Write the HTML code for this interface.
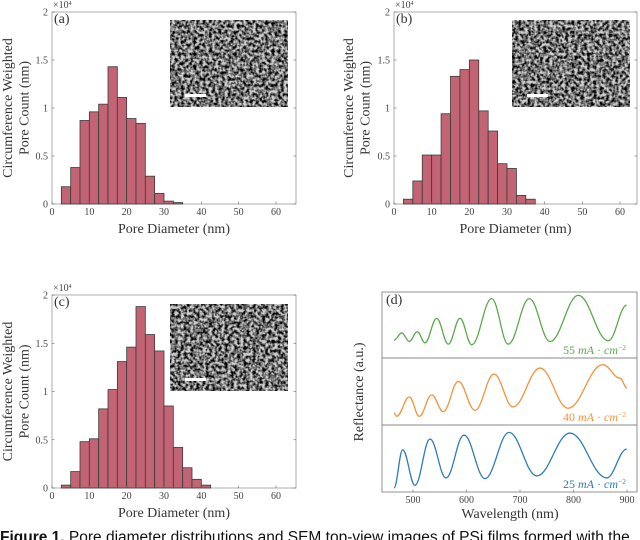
<!DOCTYPE html>
<html><head><meta charset="utf-8">
<style>
html,body{margin:0;padding:0;background:#fff;width:640px;height:540px;overflow:hidden;}
svg{display:block;}
.tk{font-family:"Liberation Serif",serif;font-size:10px;fill:#444;}
.lab{font-family:"Liberation Serif",serif;font-size:14px;fill:#333;}
.cap{font-family:"Liberation Sans",sans-serif;font-size:15.5px;fill:#111;}
</style></head>
<body>
<svg id="fig" width="640" height="540" viewBox="0 0 640 540" xmlns="http://www.w3.org/2000/svg">
<defs>
<filter id="sem" x="0" y="0" width="100%" height="100%">
<feTurbulence type="fractalNoise" baseFrequency="0.32" numOctaves="2" seed="3"/>
<feColorMatrix type="matrix" values="0 0 0 0 0  0 0 0 0 0  0 0 0 0 0  2.6 0 0 0 -0.85"/>
<feComposite in2="SourceGraphic" operator="in"/>
</filter>
</defs>
</svg>
<script>
// ---- histogram data (bins start at 2.5 nm, width 2.5 nm), counts in 1e4 ----
const binStart = 2.5;
const binWidth = 2.5;
const countsA = [0.18,0.38,0.87,0.96,1.04,1.43,1.11,0.89,0.84,0.29,0.11,0.03,0.015];
const countsB = [0.05,0.24,0.51,0.51,0.94,1.33,1.40,1.50,0.97,0.76,0.42,0.37,0.09,0.05];
const countsC = [0.03,0.17,0.48,0.51,0.82,1.02,1.31,1.46,1.88,1.59,1.42,0.85,0.42,0.21,0.09,0.03];
const histXTicks = [0,10,20,30,40,50,60];
const histYTicks = [0,0.5,1,1.5,2];
const histYLabels = ["0","0.5","1","1.5","2"];
// ---- reflectance data (normalized within each sub-panel) ----
const greenNm  = [464.5,478.9,493.1,508,522.4,544.3,566,587.9,609.7,647.1,678.1,717.4,756.1,809,865.1,899.4];
const greenVal = [0.27,0.38,0.25,0.40,0.23,0.60,0.21,0.60,0.20,0.90,0.21,0.90,0.25,0.95,0.26,0.80];
const orangeNm  = [464.5,469.5,493.1,511.8,535,556.6,584.7,615.9,651.4,686.9,737.4,789.7,854.6,887,900];
const orangeVal = [0.18,0.13,0.42,0.13,0.45,0.20,0.65,0.22,0.76,0.27,0.85,0.25,0.90,0.70,0.55];
const blueNm  = [464.5,480.7,503.7,531.8,561.7,595.3,634.6,679.4,731.2,793.5,862.1,899.4];
const blueVal = [0.06,0.63,0.10,0.79,0.21,0.85,0.20,0.89,0.24,0.88,0.21,0.64];
const wlTicks = [500,600,700,800,900];

const NS="http://www.w3.org/2000/svg";
const svg=document.getElementById('fig');
function mk(tag,attrs,parent){const e=document.createElementNS(NS,tag);for(const k in attrs)e.setAttribute(k,attrs[k]);(parent||svg).appendChild(e);return e;}

function hist(P,counts,letter,key){
  const g=mk('g',{});
  
  
  const xs=v=>P.x0+(v)*(P.x60-P.x0)/60;
  const ys=v=>P.yb-(v/2)*(P.yb-P.yt);
  mk('rect',{x:P.x0,y:P.yt,width:P.xr-P.x0,height:P.yb-P.yt,fill:'#fff',stroke:'#999','stroke-width':0.8},g);
  counts.forEach((c,i)=>{
    const a=binStart+i*binWidth;
    const r=mk('rect',{x:xs(a),y:ys(c),width:xs(a+binWidth)-xs(a),height:ys(0)-ys(c),fill:'#c26474',stroke:'#3a3a3a','stroke-width':0.8},g);
    
    
  });
  histXTicks.forEach(t=>{
    mk('line',{x1:xs(t),x2:xs(t),y1:P.yb,y2:P.yb-2.5,stroke:'#666','stroke-width':0.6},g);
    const tx=mk('text',{x:xs(t),y:P.yb+11,'text-anchor':'middle',class:'tk'},g);tx.textContent=t;
  });
  histYTicks.forEach((t,i)=>{
    mk('line',{x1:P.x0,x2:P.x0+2.5,y1:ys(t),y2:ys(t),stroke:'#666','stroke-width':0.6},g);
    mk('line',{x1:P.xr,x2:P.xr-2.5,y1:ys(t),y2:ys(t),stroke:'#666','stroke-width':0.6},g);
    const tx=mk('text',{x:P.x0-4,y:ys(t)+3.5,'text-anchor':'end',class:'tk'},g);tx.textContent=histYLabels[i];
  });
  const ex=mk('text',{x:P.x0+1,y:P.yt-4,class:'tk','font-size':'9'},g);
  ex.innerHTML='×10<tspan dy="-3" font-size="6">4</tspan>';
  
  const lt=mk('text',{x:P.x0+2,y:P.yt+11,class:'lab','font-size':'12'},g);lt.textContent='('+letter+')';
  
  const inset=mk('g',{},g);
  
  mk('rect',{x:P.ix,y:P.iy,width:118,height:87,fill:'#d0d0d0'},inset);
  mk('rect',{x:P.ix,y:P.iy,width:118,height:87,fill:'#262626',filter:'url(#sem)'},inset);
  mk('rect',{x:P.ix+15,y:P.iy+74,width:21,height:3,fill:'#fff'},inset);
  const xl=mk('text',{x:(P.x0+P.xr)/2,y:P.yb+29,'text-anchor':'middle',class:'lab'},g);xl.textContent='Pore Diameter (nm)';
  
  const cy=(P.yt+P.yb)/2;
  const yl=mk('text',{transform:`translate(${P.ylx},${cy}) rotate(-90)`,'text-anchor':'middle',class:'lab'},g);
  yl.innerHTML=`<tspan x="0" dy="0">Circumference Weighted</tspan><tspan x="0" dy="16.5">Pore Count (nm)</tspan>`;
  
}
hist({x0:52,x60:276,xr:296,yt:12,yb:204,ix:170,iy:20,ylx:12},countsA,'a','a');
hist({x0:394,x60:620,xr:637,yt:12,yb:204,ix:512,iy:20,ylx:353},countsB,'b','b');
hist({x0:52,x60:276,xr:296,yt:295,yb:488,ix:170,iy:304,ylx:12},countsC,'c','c');

// ---- reflectance panel ----
const D={x0:382,xr:637,yt:292,yb:492};
const wx=nm=>413+(nm-500)*0.535;
const g=mk('g',{});

mk('rect',{x:D.x0,y:D.yt,width:D.xr-D.x0,height:D.yb-D.yt,fill:'#fff',stroke:'#888','stroke-width':0.9},g);
const subs=[[292,358],[358,425],[425,492]];
mk('line',{x1:D.x0,x2:D.xr,y1:358,y2:358,stroke:'#888','stroke-width':0.9},g);
mk('line',{x1:D.x0,x2:D.xr,y1:425,y2:425,stroke:'#888','stroke-width':0.9},g);
function curve(nm,val,sub,color,name){
  const vy=v=>sub[1]-v*(sub[1]-sub[0]);
  let d=`M${wx(nm[0])},${vy(val[0])}`;
  for(let i=1;i<nm.length;i++){
    const xa=wx(nm[i-1]),xb=wx(nm[i]),ya=vy(val[i-1]),yb=vy(val[i]);
    const dx=(xb-xa)/2.6;
    d+=` C${xa+dx},${ya} ${xb-dx},${yb} ${xb},${yb}`;
  }
  const p=mk('path',{d:d,fill:'none',stroke:color,'stroke-width':1.3},g);
  
}
curve(greenNm,greenVal,subs[0],'#5aaa4c','line-55ma');
curve(orangeNm,orangeVal,subs[1],'#f7923a','line-40ma');
curve(blueNm,blueVal,subs[2],'#2f7cb6','line-25ma');
function lbl(y,txt,color,name){
  const t=mk('text',{x:626,y:y,'text-anchor':'end',fill:color,'font-family':'"Liberation Serif",serif','font-size':'12'},g);
  t.innerHTML=txt+' <tspan font-style="italic">mA</tspan> · <tspan font-style="italic">cm</tspan><tspan dy="-4" font-size="7.5">−2</tspan>';
  
}
lbl(354,'55','#5aaa4c','label-55ma');
lbl(421,'40','#f7923a','label-40ma');
lbl(488,'25','#2f7cb6','label-25ma');
wlTicks.forEach(t=>{
  mk('line',{x1:wx(t),x2:wx(t),y1:D.yb,y2:D.yb-2.5,stroke:'#666','stroke-width':0.6},g);
  const tx=mk('text',{x:wx(t),y:D.yb+11,'text-anchor':'middle',class:'tk'},g);tx.textContent=t;
});
const dl=mk('text',{x:D.x0+4,y:D.yt+12,class:'lab','font-size':'12'},g);dl.textContent='(d)';

const wl=mk('text',{x:510,y:518,'text-anchor':'middle',class:'lab'},g);wl.textContent='Wavelength (nm)';

const rl=mk('text',{transform:'translate(363,392) rotate(-90)','text-anchor':'middle',class:'lab'},g);rl.textContent='Reflectance (a.u.)';


// caption
const cap=mk('text',{x:0,y:542,class:'cap'});
cap.innerHTML='<tspan font-weight="bold">Figure 1.</tspan> Pore diameter distributions and SEM top-view images of PSi films formed with the';


</script>
</body></html>
